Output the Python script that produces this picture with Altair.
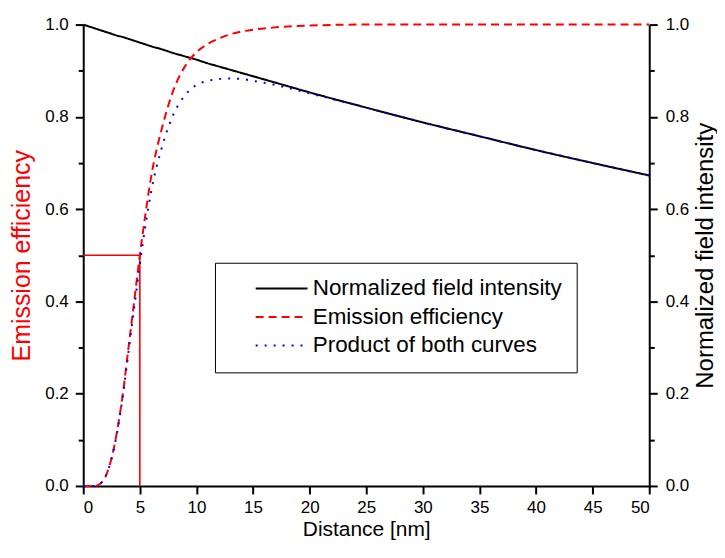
import altair as alt
import pandas as pd

# ---- data ----
distance_nm = [0, 1, 1.5, 2, 2.5, 3, 3.5, 4, 4.5, 5, 5.5, 6, 7, 8, 9, 10, 11, 12, 13, 14,
               15, 17, 20, 25, 30, 35, 40, 45, 50]
field_intensity = [1.0, 0.992, 0.988, 0.984, 0.980, 0.976, 0.973, 0.969, 0.965, 0.961, 0.957,
                   0.953, 0.946, 0.938, 0.931, 0.924, 0.916, 0.909, 0.902, 0.895, 0.888, 0.874,
                   0.853, 0.820, 0.788, 0.758, 0.728, 0.700, 0.673]
emission_eff = [0.0, 0.0, 0.005, 0.022, 0.06, 0.12, 0.2, 0.3, 0.4, 0.5, 0.59, 0.67, 0.78, 0.86,
                0.91, 0.94, 0.958, 0.97, 0.979, 0.985, 0.989, 0.994, 0.998, 1.0, 1.0, 1.0, 1.0,
                1.0, 1.0]
product_curve = [0.0, 0.0, 0.005, 0.022, 0.059, 0.117, 0.195, 0.291, 0.386, 0.48, 0.565, 0.638,
                 0.738, 0.807, 0.847, 0.869, 0.878, 0.882, 0.883, 0.882, 0.878, 0.869, 0.851,
                 0.82, 0.788, 0.758, 0.728, 0.700, 0.673]

guide_x = [0, 5, 5]
guide_y = [0.5, 0.5, 0.0]
guide_order = [0, 1, 2]

series_names = ["Normalized field intensity", "Emission efficiency", "Product of both curves"]
series_colors = ["#000000", "#ff0000", "#0000ff"]
series_dashes = [[1, 0], [8, 5], [2, 7]]

x_ticks = [i * 2.5 for i in range(21)]
y_ticks = [i / 10 for i in range(11)]

# ---- tables ----
field_df = pd.DataFrame({"x": distance_nm, "y": field_intensity, "series": series_names[0]})
left_df = pd.concat([
    pd.DataFrame({"x": distance_nm, "y": emission_eff, "series": series_names[1]}),
    pd.DataFrame({"x": distance_nm, "y": product_curve, "series": series_names[2]}),
])
guide_df = pd.DataFrame({"x": guide_x, "y": guide_y, "o": guide_order})

FONT = "Liberation Sans"

x_enc = alt.X(
    "x:Q",
    scale=alt.Scale(domain=[0, 50], nice=False, zero=False),
    axis=alt.Axis(
        values=x_ticks,
        labelExpr="datum.value % 5 == 0 ? datum.label : ''",
        tickSize={"condition": {"test": "datum.value % 5 == 0", "value": 8}, "value": 5},
        title="Distance [nm]",
        labelFontSize=17,
        labelPadding=6,
        titleFontSize=21,
        titlePadding=2.4,
    ),
)

color_enc = alt.Color(
    "series:N",
    scale=alt.Scale(domain=series_names, range=series_colors),
    legend=alt.Legend(
        title=None,
        orient="none",
        legendX=132.2,
        legendY=239,
        strokeColor="black",
        fillColor="white",
        padding=14.6,
        symbolType="M-4,0H4",
        symbolSize=169,
        symbolStrokeWidth=1.8,
        symbolOffset=41,
        labelOffset=20,
        labelFontSize=22.5,
        labelFont=FONT,
        labelColor="black",
        rowPadding=5.6,
        labelLimit=400,
    ),
)
dash_enc = alt.StrokeDash(
    "series:N",
    scale=alt.Scale(domain=series_names, range=series_dashes),
    legend=None,
)

y_common = dict(
    values=y_ticks,
    labelExpr="round(datum.value * 10) % 2 == 0 ? format(datum.value, '.1f') : ''",
    tickSize={"condition": {"test": "round(datum.value * 10) % 2 == 0", "value": 8}, "value": 5},
    labelFontSize=17,
)

guide = alt.Chart(guide_df).mark_line(color="#ff0000", strokeWidth=1.6).encode(
    x=alt.X("x:Q", scale=alt.Scale(domain=[0, 50], nice=False)),
    y=alt.Y("y:Q", scale=alt.Scale(domain=[0, 1], nice=False), axis=None),
    order="o:Q",
)

field_line = alt.Chart(field_df).mark_line(strokeWidth=2, interpolate="monotone").encode(
    x=x_enc,
    y=alt.Y("y:Q", scale=alt.Scale(domain=[0, 1], nice=False),
            axis=alt.Axis(orient="right", title="Normalized field intensity",
                          titleColor="black", titleAngle=270, titleBaseline="top",
                          titleFontSize=24, titlePadding=4.5, labelPadding=8, **y_common)),
    color=color_enc,
    strokeDash=dash_enc,
)

left_lines = alt.Chart(left_df).mark_line(strokeWidth=2, interpolate="monotone").encode(
    x=alt.X("x:Q", scale=alt.Scale(domain=[0, 50], nice=False)),
    y=alt.Y("y:Q", scale=alt.Scale(domain=[0, 1], nice=False),
            axis=alt.Axis(orient="left", title="Emission efficiency",
                          titleColor="#ff0000", titleFontSize=25, titlePadding=10,
                          labelPadding=7, **y_common)),
    color=color_enc,
    strokeDash=dash_enc,
)

chart = (
    alt.layer(guide, field_line, left_lines)
    .resolve_scale(y="independent")
    .properties(
        width=568,
        height=463,
        autosize="none",
        padding={"left": 75.5, "top": 15.7, "right": 68, "bottom": 55.3},
    )
    .configure_view(stroke=None)
    .configure_axis(
        grid=False,
        domainColor="black",
        domainWidth=2,
        tickColor="black",
        tickWidth=2,
        labelColor="black",
        labelFont=FONT,
        titleFont=FONT,
        titleFontWeight="normal",
        titleColor="black",
    )
    .configure_legend(labelFont=FONT)
)

chart.save("out.html", embed_options={"renderer": "svg", "actions": False})
